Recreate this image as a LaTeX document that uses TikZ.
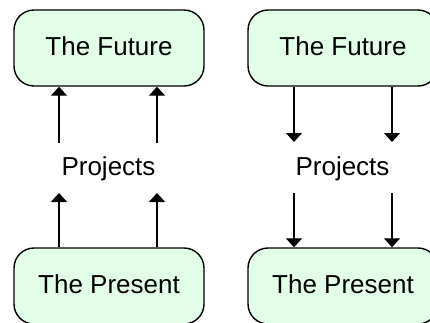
\documentclass[tikz,border=0pt]{standalone}
\usepackage{fontspec}
\setmainfont{Liberation Sans}
\usepackage{tikz}
\usetikzlibrary{arrows.meta}
\usetikzlibrary{shapes}

\definecolor{stagefill}{RGB}{226,253,232}

\begin{document}
\begin{tikzpicture}[x=1pt, y=-1pt,
				   stage/.style={rectangle, rounded corners=20pt, draw=black, line width=1.4pt,
				                 fill=stagefill, minimum width=190pt, minimum height=76pt,
				                 text height=19pt, text depth=5pt, inner sep=0pt,
				                 font=\fontsize{26}{30}\selectfont},
				   middle/.style={inner sep=0pt, anchor=base, font=\fontsize{26}{30}\selectfont},
				   flow/.style={-{Triangle[width=16pt,length=9pt]}, line width=1.3pt}]
\clip (0,0) rectangle (430,322);
% left: the present leads to the future
\node[stage] (futureL) at (109,48) {The Future};
\node[stage] (presentL) at (109,286) {The Present};
\node[middle] (projL) at (108.5,175.7) {Projects};
\coordinate (uL1) at (59,143);
\coordinate (uL2) at (157,143);
\coordinate (dL1) at (59,193);
\coordinate (dL2) at (157,193);
\draw[flow] (uL1) -- (uL1 |- futureL.south);
\draw[flow] (uL2) -- (uL2 |- futureL.south);
\draw[flow] (dL1 |- presentL.north) -- (dL1);
\draw[flow] (dL2 |- presentL.north) -- (dL2);
% right: the future leads to the present
\node[stage] (futureR) at (343,48) {The Future};
\node[stage] (presentR) at (343,286) {The Present};
\node[middle] (projR) at (342.5,175.7) {Projects};
\coordinate (uR1) at (294,142);
\coordinate (uR2) at (392,142);
\coordinate (dR1) at (294,193);
\coordinate (dR2) at (392,193);
\draw[flow] (uR1 |- futureR.south) -- (uR1);
\draw[flow] (uR2 |- futureR.south) -- (uR2);
\draw[flow] (dR1) -- (dR1 |- presentR.north);
\draw[flow] (dR2) -- (dR2 |- presentR.north);
\end{tikzpicture}
\end{document}
